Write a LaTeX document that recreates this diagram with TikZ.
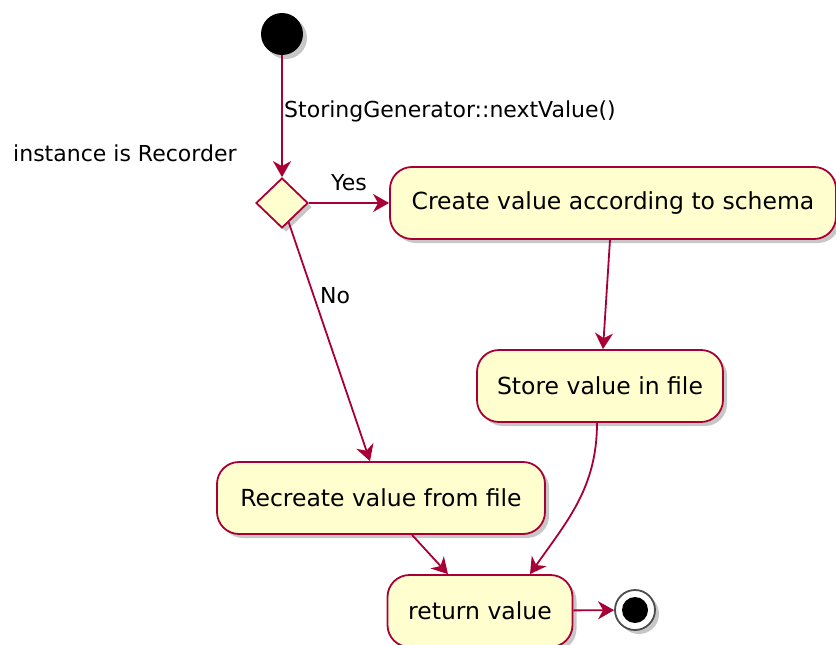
\documentclass[tikz,border=0pt]{standalone}
\usepackage{fontspec}
\setmainfont{DejaVu Sans}
\usetikzlibrary{arrows.meta,shadows,shapes.geometric,calc}
\definecolor{umlred}{HTML}{A80036}
\definecolor{umlfill}{HTML}{FEFECE}

\begin{document}
\begin{tikzpicture}[x=1pt, y=-1pt,
  shade/.style={drop shadow={shadow xshift=4pt, shadow yshift=-4pt, fill=black, opacity=0.22}},
  actnode/.style={rectangle, rounded corners=22pt, draw=umlred, fill=umlfill, line width=1.8pt, minimum height=72pt, inner xsep=4pt, font=\fontsize{23.5}{28}\selectfont, shade},
  decnode/.style={diamond, aspect=1, draw=umlred, fill=umlfill, line width=1.8pt, minimum width=52pt, minimum height=50pt, inner sep=0pt, shade},
  startnode/.style={circle, fill=black, minimum size=42pt, inner sep=0pt, shade},
  endnode/.style={circle, draw=black!70, fill=white, line width=1.8pt, minimum size=40pt, inner sep=0pt, shade},
  enddot/.style={circle, fill=black, minimum size=26pt, inner sep=0pt},
  lbl/.style={font=\fontsize{22}{26}\selectfont, inner sep=0pt},
  flow/.style={draw=umlred, line width=1.8pt, -{Stealth[length=16pt, width=18pt, inset=5pt]}}]
\useasboundingbox (0,0) rectangle (836,645);
\node[startnode] (start) at (282,34) {};
\node[decnode] (dec) at (282,203) {};
\node[actnode, minimum width=446pt] (create) at (613,203) {Create value according to schema};
\node[actnode, minimum width=246pt] (store) at (600,386) {Store value in file};
\node[actnode, minimum width=328pt] (recreate) at (381,498) {Recreate value from file};
\node[actnode, minimum width=185pt] (ret) at (480,611) {return value};
\node[endnode] (stop) at (635,610) {};
\node[enddot] (stopdot) at (stop) {};
\node[lbl, anchor=west] (call) at (284,111) {StoringGenerator::nextValue()};
\node[lbl, anchor=west] (cond) at (13,153) {instance is Recorder};
\node[lbl] (yes) at (349,183) {Yes};
\node[lbl] (no) at (335,296) {No};
\draw[flow] (start) -- (dec);
\draw[flow] (dec) -- (create);
\draw[flow] ($(dec.south)!0.25!(dec.east)$) -- ([xshift=-11pt]recreate.north);
\draw[flow] ([xshift=-3pt]create.south) -- ([xshift=3pt]store.north);
\draw[flow] ([xshift=-3pt]store.south) to[out=-90, in=55] ([xshift=50pt]ret.north);
\draw[flow] ([xshift=31pt]recreate.south) -- ([xshift=-32pt]ret.north);
\draw[flow] (ret) -- (stop);
\end{tikzpicture}
\end{document}
